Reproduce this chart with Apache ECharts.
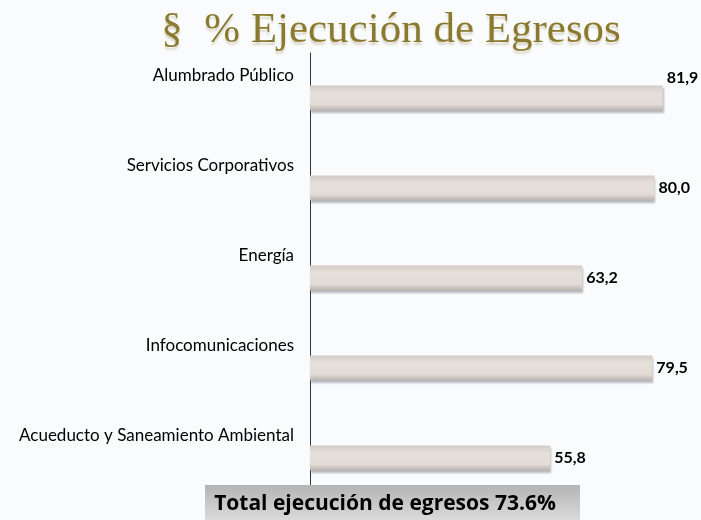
<!DOCTYPE html>
<html>
<head>
<meta charset="utf-8">
<script src="https://cdn.jsdelivr.net/npm/echarts@6/dist/echarts.min.js"></script>
<style>
body{margin:0;padding:0;background:#fafbfc;}
#main{width:701px;height:520px;}
</style>
</head>
<body>
<div id="main"></div>
<script>
const categories = ['Alumbrado Público', 'Servicios Corporativos', 'Energía', 'Infocomunicaciones', 'Acueducto y Saneamiento Ambiental']
const values = [81.9, 80.0, 63.2, 79.5, 55.8]
const titleText = '§  % Ejecución de Egresos'
const totalText = 'Total ejecución de egresos 73.6%'

const chart = echarts.init(document.getElementById('main'))

const barData = values.map(function (v, i) {
  const item = { value: v }
  if (i === 0) {
    item.label = { offset: [0, -20] }
  }
  return item
})

chart.setOption({
  backgroundColor: '#fafbfc',
  animation: false,
  title: {
    text: titleText,
    left: 386,
    textAlign: 'center',
    top: 4,
    textStyle: {
      fontFamily: 'Liberation Serif',
      fontSize: 43,
      fontWeight: 'normal',
      color: '#8a7a30',
      textShadowColor: 'rgba(120,100,40,0.25)',
      textShadowBlur: 2,
      textShadowOffsetY: 3
    }
  },
  grid: {
    left: 310,
    right: 25,
    top: 53,
    height: 450
  },
  xAxis: {
    type: 'value',
    min: 0,
    max: 85,
    show: false
  },
  yAxis: {
    type: 'category',
    data: categories,
    inverse: true,
    axisLine: { show: true, lineStyle: { color: '#333', width: 1 } },
    axisTick: { show: false },
    axisLabel: {
      margin: 16,
      formatter: function (v) {
        return '{a|' + v + '}\n{b|}'
      },
      rich: {
        a: { fontFamily: 'Lato', fontSize: 17, color: '#000', height: 20 },
        b: { height: 44 }
      }
    }
  },
  series: [{
    type: 'bar',
    data: barData,
    barWidth: 25,
    itemStyle: {
      color: new echarts.graphic.LinearGradient(0, 0, 0, 1, [
        { offset: 0, color: '#d2cbc6' },
        { offset: 0.3, color: '#e6e0db' },
        { offset: 0.75, color: '#e2dbd6' },
        { offset: 1, color: '#b9b2ad' }
      ]),
      shadowColor: 'rgba(60,60,80,0.35)',
      shadowBlur: 2,
      shadowOffsetX: 1,
      shadowOffsetY: 2
    },
    label: {
      show: true,
      position: 'right',
      distance: 4,
      fontFamily: 'Lato',
      fontWeight: 'bold',
      fontSize: 16,
      color: '#000',
      formatter: function (p) {
        return p.value.toFixed(1).replace('.', ',')
      }
    }
  }],
  graphic: [{
    type: 'rect',
    left: 205,
    top: 485,
    shape: { width: 375, height: 35 },
    style: {
      fill: new echarts.graphic.LinearGradient(0, 0, 0, 1, [
        { offset: 0, color: '#b4b4b4' },
        { offset: 1, color: '#dadada' }
      ])
    },
    z: 10
  }, {
    type: 'text',
    x: 385,
    y: 504,
    style: {
      text: totalText,
      align: 'center',
      verticalAlign: 'middle',
      fontFamily: 'Open Sans',
      fontWeight: 'bold',
      fontSize: 21,
      fill: '#000'
    },
    z: 11
  }]
})
</script>
</body>
</html>
